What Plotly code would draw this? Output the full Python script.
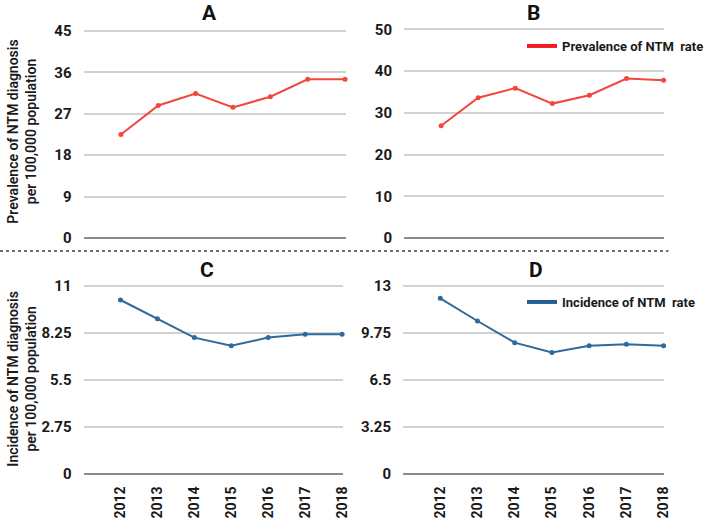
import plotly.graph_objects as go

W, H = 709, 521

years = [2012, 2013, 2014, 2015, 2016, 2017, 2018]
year_labels = [str(y) for y in years]

prev_a = [22.5, 28.8, 31.4, 28.4, 30.7, 34.5, 34.5]
prev_b = [26.9, 33.6, 35.9, 32.2, 34.2, 38.2, 37.8]
inc_c = [10.18, 9.09, 7.98, 7.51, 7.98, 8.17, 8.17]
inc_d = [12.15, 10.58, 9.08, 8.41, 8.87, 8.97, 8.87]

ticks_a = [0, 9, 18, 27, 36, 45]
ticks_b = [0, 10, 20, 30, 40, 50]
ticks_c = [0, 2.75, 5.5, 8.25, 11]
ticks_d = [0, 3.25, 6.5, 9.75, 13]

panel_titles = ["A", "B", "C", "D"]
legend_prev = "Prevalence of NTM\u00a0 rate"
legend_inc = "Incidence of NTM\u00a0 rate"
ytitle_top = "Prevalence of NTM diagnosis<br>per 100,000 population"
ytitle_bot = "Incidence of NTM diagnosis<br>per 100,000 population"

RED = "#f2473d"
RED_LEG = "#ee1c25"
BLUE = "#2e6a9c"
BLUE_LEG = "#245f93"
FONT = "Roboto"
TXT = "#1a1a1a"


def xdom(p0, v0, p1, v1, r0, r1):
    ppu = (p1 - p0) / (v1 - v0)
    left = p0 - (v0 - r0) * ppu
    right = p1 + (r1 - v1) * ppu
    return [left / W, right / W]


def ydom(p_lo, v_lo, p_hi, v_hi, r0, r1):
    ppu = (p_lo - p_hi) / (v_hi - v_lo)
    bot = p_lo + (v_lo - r0) * ppu
    top = p_hi - (r1 - v_hi) * ppu
    return [1 - bot / H, 1 - top / H]


fig = go.Figure()

panels = [
    # suffix, values, color, ticks, xpix(2011,2018), ypix(0, top), legend text, legend colour, legend id
    ("", prev_a, RED, ticks_a, (85, 351), (238, 31), None, None, None),
    ("2", prev_b, RED, ticks_b, (411, 675), (238, 29.3), legend_prev, RED_LEG, "legend"),
    ("3", inc_c, BLUE, ticks_c, (85, 348), (474, 286), None, None, None),
    ("4", inc_d, BLUE, ticks_d, (410, 675), (474, 286), legend_inc, BLUE_LEG, "legend2"),
]

xr = [2011, 2018.02]
for i, (sfx, vals, col, ticks, xp, yp, leg, legcol, legid) in enumerate(panels):
    top = ticks[-1]
    yr = [-0.01 * top, top * 1.01]
    xd = xdom(xp[0], 2011, xp[1], 2018, xr[0], xr[1])
    yd = ydom(yp[0], 0, yp[1], top, yr[0], yr[1])
    show_x = i >= 2
    fig.add_trace(go.Scatter(
        x=years, y=vals, mode="lines+markers",
        line=dict(color=col, width=2),
        marker=dict(color=col, size=5),
        cliponaxis=False, showlegend=False,
        xaxis="x" + sfx, yaxis="y" + sfx,
    ))
    if leg:
        # legend key (line only, as in the reference)
        fig.add_trace(go.Scatter(
            x=[None], y=[None], mode="lines", name=leg,
            line=dict(color=legcol, width=4),
            showlegend=True, legend=legid,
            xaxis="x" + sfx, yaxis="y" + sfx,
        ))
    fig.layout["xaxis" + sfx] = dict(
        domain=xd, range=xr, anchor="y" + sfx, automargin=False,
        showgrid=False, zeroline=False, showline=False,
        tickmode="array", tickvals=years, ticktext=year_labels,
        showticklabels=show_x, tickangle=-90,
        ticks="outside", ticklen=4, tickcolor="rgba(0,0,0,0)",
        tickfont=dict(family=FONT, size=14, color=TXT, weight="bold"),
        fixedrange=True,
    )
    fig.layout["yaxis" + sfx] = dict(
        domain=yd, range=yr, anchor="x" + sfx, automargin=False,
        showgrid=True, gridcolor="#d2d2d2", gridwidth=1.5,
        zeroline=True, zerolinecolor="#8c8c8c", zerolinewidth=2,
        showline=False,
        tickmode="array", tickvals=ticks, ticktext=[str(t) for t in ticks],
        ticks="outside", ticklen=8, tickcolor="rgba(0,0,0,0)",
        tickfont=dict(family=FONT, size=15, color=TXT, weight="bold"),
        fixedrange=True,
    )

title_pos = [(213, 13), (543, 13), (211, 270), (545, 270)]
for t, (px, py) in zip(panel_titles, title_pos):
    fig.add_annotation(
        text=t, x=px / W, y=1 - py / H, xref="paper", yref="paper",
        showarrow=False, xanchor="center", yanchor="middle",
        font=dict(family=FONT, size=21, color="#111111", weight="bold"),
    )

for txt, py in [(ytitle_top, 132), (ytitle_bot, 379)]:
    fig.add_annotation(
        text=txt, x=22 / W, y=1 - py / H, xref="paper", yref="paper",
        showarrow=False, textangle=-90, xanchor="center", yanchor="middle",
        font=dict(family=FONT, size=14, color=TXT, weight=600),
    )

# dashed separator between the rows
fig.add_shape(
    type="line", xref="paper", yref="paper",
    x0=0, x1=680 / W, y0=1 - 251 / H, y1=1 - 251 / H,
    line=dict(color="#444444", width=1.5, dash="3px,3px"),
)

legend_common = dict(
    xanchor="left", yanchor="middle", bgcolor="rgba(0,0,0,0)",
    font=dict(family=FONT, size=13, color=TXT, weight="bold"),
    itemwidth=30, tracegroupgap=0,
)
fig.update_layout(
    width=W, height=H,
    margin=dict(l=0, r=0, t=0, b=0),
    paper_bgcolor="white", plot_bgcolor="white",
    showlegend=True,
    legend=dict(x=531 / W, y=1 - 46 / H, **legend_common),
    legend2=dict(x=531 / W, y=1 - 302 / H, **legend_common),
)

fig.write_html(
    "out.html",
    config={"displayModeBar": False},
    post_script="document.body.style.margin='0';document.body.style.overflow='hidden';",
)
